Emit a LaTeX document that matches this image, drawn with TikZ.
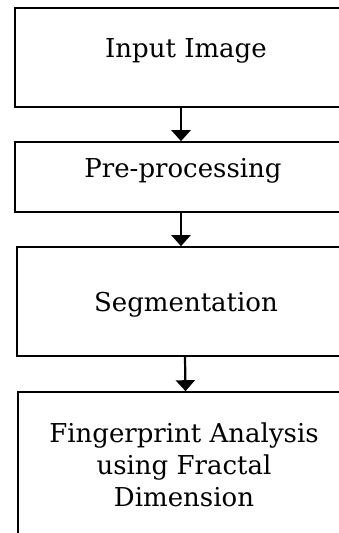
\documentclass[tikz,border=0pt]{standalone}
\usepackage{fontspec}
\setmainfont{DejaVu Serif}
\usetikzlibrary{arrows.meta}

\begin{document}
\begin{tikzpicture}[x=1pt, y=-1pt,
        stage/.style={draw, line width=1.6pt, inner sep=0pt},
        label/.style={align=center, font=\fontsize{26}{32}\selectfont},
        flow/.style={line width=2.2pt, -{Triangle[length=11pt, width=19pt]}}]
            \useasboundingbox (0, 0) rectangle (339, 533);
            \clip (0, 0) rectangle (339, 533);
            \node[stage, minimum width=332pt, minimum height=99pt](in) at (181, 57.5){};
            \node[stage, minimum width=332pt, minimum height=70pt](pre) at (181, 177){};
            \node[stage, minimum width=336pt, minimum height=109pt](seg) at (185, 301.5){};
            \node[stage, minimum width=335pt, minimum height=168pt](fpa) at (185.5, 476){};
            \node[label](inT) at (186, 51){Input Image};
            \node[label](preT) at (183, 171){Pre-processing};
            \node[label](segT) at (186, 305){Segmentation};
            \node[label](fpaT) at (184, 465){Fingerprint Analysis\\ using Fractal\\ Dimension};
            \draw[flow](in.south)--(pre.north);
            \draw[flow](pre.south)--(pre.south |- seg.north);
            \draw[flow](seg.south)--(fpa.north);
        \end{tikzpicture}
\end{document}
